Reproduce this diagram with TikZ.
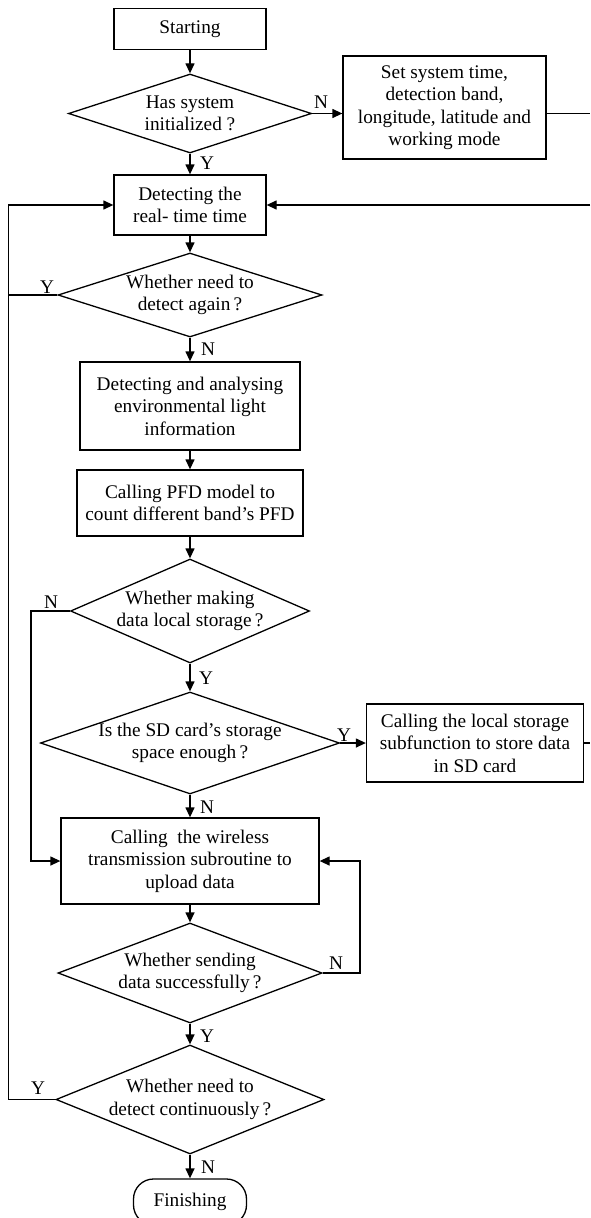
\documentclass[tikz,border=0pt]{standalone}
\usepackage{fontspec}
\setmainfont{Liberation Serif}
\usetikzlibrary{shapes.geometric,arrows.meta}
\begin{document}
\begin{tikzpicture}[x={(1pt,0pt)},y={(0pt,-1pt)},
  every node/.style={font=\fontsize{19.3}{22.5}\selectfont},
  box/.style={draw, line width=1.3pt, rectangle, inner sep=0pt, align=center},
  dia/.style={draw, line width=1.3pt, diamond, inner sep=0pt},
  txt/.style={align=center, inner sep=0pt},
  lab/.style={inner sep=0pt},
  line/.style={line width=1.3pt},
  arr/.style={line width=1.3pt, -{Triangle[length=10pt,width=9pt]}}
]
\useasboundingbox (0,0) rectangle (590,1218);
\clip (0,0) rectangle (590,1218);

\node[box, minimum width=152pt, minimum height=41pt] (start) at (190,29) {Starting};
\node[dia, minimum width=243pt, minimum height=79pt] (d1) at (190,113.5) {};
\node[txt] (d1t) at (d1) {Has system\\initialized ?};
\node[box, minimum width=203pt, minimum height=103pt] (setb) at (444.5,107.5) {Set system time,\\detection band,\\longitude, latitude and\\working mode};
\node[box, minimum width=152pt, minimum height=60pt] (det) at (190,205) {Detecting the\\real- time time};
\node[dia, minimum width=264pt, minimum height=84pt] (d2) at (190,295) {};
\node[txt] (d2t) at (d2) {Whether need to\\detect again\,?};
\node[box, minimum width=220pt, minimum height=88pt] (env) at (190,406) {Detecting and analysing\\environmental light\\information};
\node[box, minimum width=226pt, minimum height=66pt] (pfd) at (190,503) {Calling PFD model to\\count different band’s PFD};
\node[dia, minimum width=239pt, minimum height=104pt] (d3) at (190,611) {};
\node[txt] (d3t) at (d3) {Whether making\\data local storage\,?};
\node[dia, minimum width=299pt, minimum height=102pt] (d4) at (190,743) {};
\node[txt] (d4t) at (d4) {Is the SD card’s storage\\space enough\,?};
\node[box, minimum width=217pt, minimum height=78pt] (store) at (475,743) {Calling the local storage\\subfunction to store data\\in SD card};
\node[box, minimum width=258pt, minimum height=86pt] (wire) at (190,861) {Calling\hspace{0.5em}the wireless\\transmission subroutine to\\upload data};
\node[dia, minimum width=264pt, minimum height=100pt] (d5) at (190,973) {};
\node[txt] (d5t) at (d5) {Whether sending\\data successfully\,?};
\node[dia, minimum width=268pt, minimum height=109pt] (d6) at (190,1099.5) {};
\node[txt] (d6t) at (d6) {Whether need to\\detect continuously\,?};
\node[box, rounded corners=20pt, minimum width=113pt, minimum height=46pt] (fin) at (190,1202) {Finishing};

\coordinate (rgt) at (590,0);
\coordinate (lft) at (8.3,0);
\coordinate (lft2) at (31,0);
\coordinate (rgt2) at (360,0);

\draw[arr] (start) -- (d1);
\draw[arr] (d1) -- (det);
\draw[arr] (d1.east) -- (setb.west |- d1.east);
\draw[line] (setb.east |- d1.east) -- (d1.east -| rgt);
\draw[arr] (det.east -| rgt) -- (det.east);
\draw[arr] (det) -- (d2);
\draw[arr] (d2) -- (env);
\draw[arr] (env) -- (pfd);
\draw[arr] (pfd) -- (d3);
\draw[arr] (d3) -- (d4);
\draw[arr] (d4) -- (store);
\draw[line] (store.east) -- (store.east -| rgt);
\draw[arr] (d4) -- (wire);
\draw[arr] (wire) -- (d5);
\draw[arr] (d5) -- (d6);
\draw[arr] (d6) -- (fin);
\draw[arr] (d2.west) -- (d2.west -| lft) |- (det.west);
\draw[line] (d6.west) -- (d6.west -| lft) -- (d2.west -| lft);
\draw[arr] (d3.west) -- (d3.west -| lft2) |- (wire.west);
\draw[arr] (d5.east) -- (d5.east -| rgt2) |- (wire.east);

\node[lab] (l1) at (321,102) {N};
\node[lab] (l2) at (207,163) {Y};
\node[lab] (l3) at (47,287) {Y};
\node[lab] (l4) at (208,349) {N};
\node[lab] (l5) at (51,602) {N};
\node[lab] (l6) at (206,678) {Y};
\node[lab] (l7) at (344,735) {Y};
\node[lab] (l8) at (207,807) {N};
\node[lab] (l9) at (336,963) {N};
\node[lab] (l10) at (207,1036) {Y};
\node[lab] (l11) at (38,1088) {Y};
\node[lab] (l12) at (208,1167) {N};
\end{tikzpicture}
\end{document}
